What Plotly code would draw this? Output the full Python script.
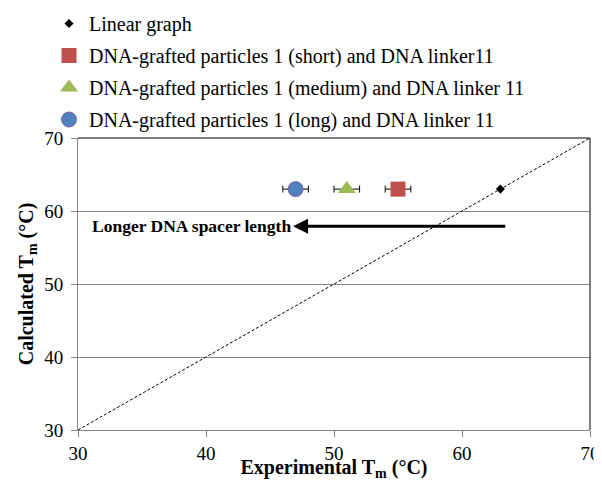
import plotly.graph_objects as go

# Data
line_x = [30, 70]
line_y = [30, 70]
linear_x = [63]
linear_y = [63]
short_x = [55]
short_y = [63]
short_err = [1.0]
medium_x = [51]
medium_y = [63]
medium_err = [1.0]
long_x = [47]
long_y = [63]
long_err = [1.0]
x_ticks = [30, 40, 50, 60, 70]
y_ticks = [30, 40, 50, 60, 70]
arrow_start = (63.5, 57.9)
arrow_end = (46.8, 57.9)

FONT = "Times New Roman"

# page body has an 8px margin; figure offset accordingly
W, H = 594, 473
ML, MR, MT, MB = 70, 12, 130, 51
PW = W - ML - MR
PH = H - MT - MB

fig = go.Figure()
fig.add_trace(go.Scatter(x=line_x, y=line_y, mode="lines",
                         line=dict(color="black", width=1, dash="3px,2px"),
                         showlegend=False, hoverinfo="skip"))
fig.add_trace(go.Scatter(x=linear_x, y=linear_y, mode="markers", name="Linear graph",
                         legendgroup="a",
                         marker=dict(symbol="diamond", size=7, color="black")))
fig.add_trace(go.Scatter(x=short_x, y=short_y, mode="markers",
                         name="DNA-grafted particles 1 (short) and DNA linker11",
                         legendgroup="b",
                         marker=dict(symbol="square", size=15, color="#C0504D"),
                         error_x=dict(type="data", array=short_err, color="black", thickness=1, width=3.5)))
fig.add_trace(go.Scatter(x=medium_x, y=medium_y, mode="markers",
                         name="DNA-grafted particles 1 (medium) and DNA linker 11",
                         legendgroup="c",
                         marker=dict(symbol="triangle-up", size=16, color="#9BBB59"),
                         error_x=dict(type="data", array=medium_err, color="black", thickness=1, width=3.5)))
fig.add_trace(go.Scatter(x=long_x, y=long_y, mode="markers",
                         name="DNA-grafted particles 1 (long) and DNA linker 11",
                         legendgroup="d",
                         marker=dict(symbol="circle", size=15, color="#4F81BD",
                                     line=dict(color="#8064A2", width=1)),
                         error_x=dict(type="data", array=long_err, color="black", thickness=1, width=3.5)))

fig.add_annotation(x=arrow_end[0], y=arrow_end[1], ax=arrow_start[0], ay=arrow_start[1],
                   xref="x", yref="y", axref="x", ayref="y", text="", showarrow=True,
                   arrowhead=2, arrowsize=1, arrowwidth=3, arrowcolor="black")
fig.add_annotation(x=arrow_end[0], y=arrow_end[1], xref="x", yref="y",
                   text="<b>Longer DNA spacer length</b>", showarrow=False,
                   xanchor="right", yanchor="middle",
                   font=dict(family=FONT, size=17.5, color="black"))

# top and right border
fig.add_shape(type="line", xref="paper", yref="paper", x0=0, x1=1, y0=1, y1=1,
              line=dict(color="black", width=1))
fig.add_shape(type="line", xref="paper", yref="paper", x0=1, x1=1, y0=0, y1=1,
              line=dict(color="black", width=1))

fig.update_layout(
    width=W, height=H,
    margin=dict(l=ML, r=MR, t=MT, b=MB, pad=0, autoexpand=False),
    paper_bgcolor="white", plot_bgcolor="white",
    font=dict(family=FONT, size=20, color="black"),
    legend=dict(x=(41 - ML) / PW, y=1 + (MT + 4) / PH, xref="paper", yref="paper",
                xanchor="left", yanchor="top", traceorder="grouped",
                font=dict(family=FONT, size=20, color="black"),
                bgcolor="rgba(0,0,0,0)", itemwidth=30, tracegroupgap=3),
    xaxis=dict(range=[30, 70], tickvals=x_ticks, showgrid=False, zeroline=False,
               automargin=False,
               showline=True, linecolor="#868686", linewidth=1,
               ticks="outside", ticklen=6, tickcolor="#868686",
               tickfont=dict(family=FONT, size=19),
               title=dict(text="<b>Experimental T<sub>m</sub> (°C)</b>", standoff=4,
                          font=dict(family=FONT, size=20))),
    yaxis=dict(range=[30, 70], tickvals=y_ticks, showgrid=True, gridcolor="#868686", gridwidth=1,
               automargin=False, ticklabelstandoff=4,
               zeroline=False, showline=True, linecolor="#868686", linewidth=1,
               ticks="outside", ticklen=6, tickcolor="#868686",
               tickfont=dict(family=FONT, size=19),
               title=dict(text="<b>Calculated T<sub>m</sub> (°C)</b>", standoff=5,
                          font=dict(family=FONT, size=20))),
)

fig.write_html("out.html")
